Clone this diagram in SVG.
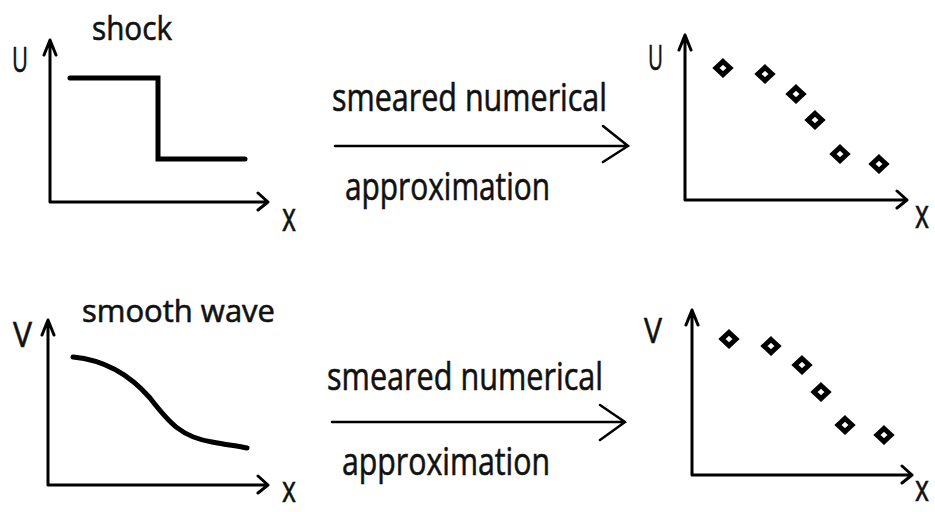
<svg xmlns="http://www.w3.org/2000/svg" width="935" height="512" viewBox="0 0 935 512">
<defs>
<style>
text{font-family:"Open Sans","Liberation Sans",sans-serif;fill:#111;stroke:#111;stroke-width:0.6;}
.lbl{font-size:38px;}
.ax{fill:none;stroke:#000;stroke-width:3;stroke-linecap:round;stroke-linejoin:round;}
.arr{fill:none;stroke:#000;stroke-width:2.5;stroke-linecap:round;stroke-linejoin:miter;}
.curve{fill:none;stroke:#000;stroke-width:5;stroke-linecap:round;stroke-linejoin:miter;}
.dia{fill:#fff;stroke:#000;stroke-width:5;stroke-linejoin:miter;}
</style>
<path id="d" d="M0,-6.5 L7,0 L0,6.5 L-7,0 Z"/>
</defs>
<rect width="935" height="512" fill="#fff"/>

<g id="shock-plot">
<path class="ax" d="M50,202 V40 M44,55 L50,40 L56,55 M50,202 H268 M258,193 L268,202 L258,210"/>
<path class="curve" d="M70,78 H158 V159 H245"/>
<text x="92" y="40" font-size="33" textLength="80" lengthAdjust="spacingAndGlyphs">shock</text>
<text x="12" y="72" font-size="35" textLength="16" lengthAdjust="spacingAndGlyphs">U</text>
<text x="282" y="231" font-size="40" textLength="14" lengthAdjust="spacingAndGlyphs">x</text>
</g>

<g id="shock-approx-plot">
<path class="ax" d="M685,200 V35 M679,50 L685,35 L691,50 M685,200 H907 M897,191 L907,200 L897,208"/>
<use href="#d" class="dia" x="723" y="68"/>
<use href="#d" class="dia" x="765" y="74"/>
<use href="#d" class="dia" x="796" y="94"/>
<use href="#d" class="dia" x="815" y="120"/>
<use href="#d" class="dia" x="840" y="154"/>
<use href="#d" class="dia" x="879" y="164"/>
<text x="648" y="70" font-size="35" textLength="15" lengthAdjust="spacingAndGlyphs">U</text>
<text x="915" y="228" font-size="40" textLength="14" lengthAdjust="spacingAndGlyphs">x</text>
</g>

<g id="wave-plot">
<path class="ax" d="M48,485 V320 M42,335 L48,320 L54,335 M48,485 H268 M258,476 L268,485 L258,493"/>
<path class="curve" d="M73,357 C105,360 130,375 150,398 C170,424 182,437 212,442 C228,445 238,446 247,448"/>
<text x="82" y="322" font-size="31" textLength="193" lengthAdjust="spacingAndGlyphs">smooth wave</text>
<text x="13" y="347" font-size="35" textLength="19" lengthAdjust="spacingAndGlyphs">V</text>
<text x="282" y="502" font-size="37" textLength="14" lengthAdjust="spacingAndGlyphs">x</text>
</g>

<g id="wave-approx-plot">
<path class="ax" d="M692,475 V310 M686,325 L692,310 L698,325 M692,475 H912 M902,466 L912,475 L902,483"/>
<use href="#d" class="dia" x="729" y="339"/>
<use href="#d" class="dia" x="771" y="346"/>
<use href="#d" class="dia" x="802" y="365"/>
<use href="#d" class="dia" x="821" y="392"/>
<use href="#d" class="dia" x="845" y="425"/>
<use href="#d" class="dia" x="884" y="435"/>
<text x="644" y="343" font-size="35" textLength="18" lengthAdjust="spacingAndGlyphs">V</text>
<text x="915" y="501" font-size="37" textLength="14" lengthAdjust="spacingAndGlyphs">x</text>
</g>

<g id="connectors">
<path class="arr" d="M335,146 H628 M603,126 L628,146 L603,162"/>
<path class="arr" d="M332,422 H625 M600,405 L625,422 L600,440"/>
</g>

<g id="connector-labels">
<text class="lbl" x="332" y="111" textLength="275" lengthAdjust="spacingAndGlyphs">smeared numerical</text>
<text class="lbl" x="345" y="200" textLength="205" lengthAdjust="spacingAndGlyphs">approximation</text>
<text class="lbl" x="327" y="390" textLength="276" lengthAdjust="spacingAndGlyphs">smeared numerical</text>
<text class="lbl" x="342" y="475" textLength="208" lengthAdjust="spacingAndGlyphs">approximation</text>
</g>
</svg>
